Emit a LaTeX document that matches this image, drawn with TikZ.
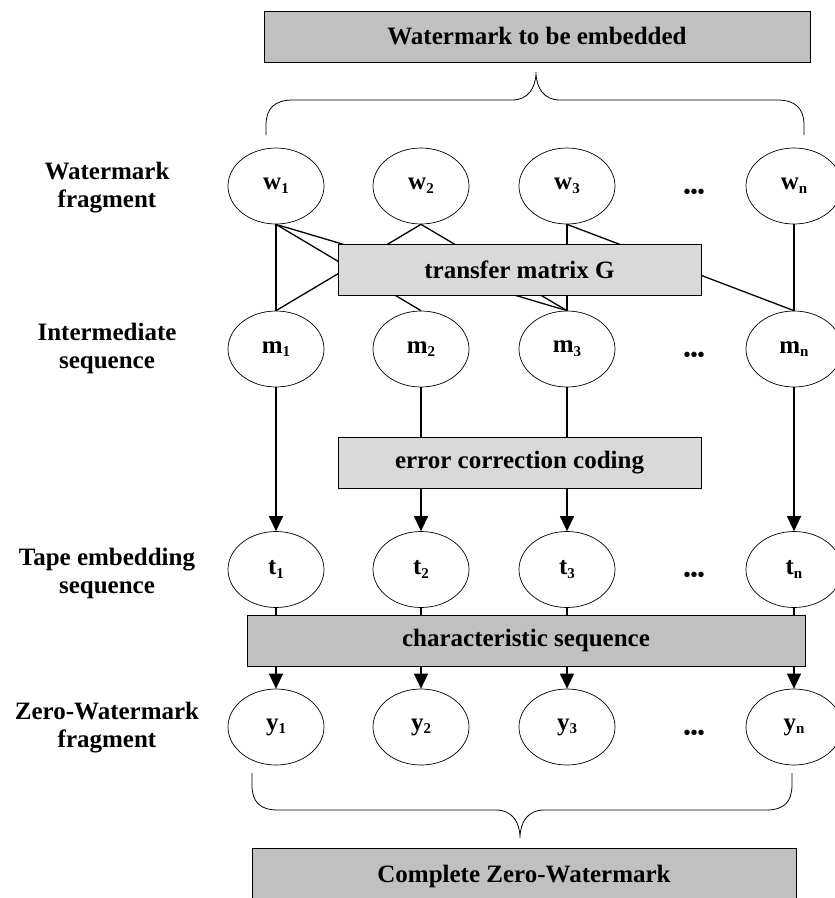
\documentclass[tikz,border=0pt]{standalone}
\usepackage{fontspec}
\setmainfont{Liberation Serif}
\usetikzlibrary{shapes.geometric,arrows.meta}
\definecolor{boxdark}{HTML}{C0C0C0}
\definecolor{boxlight}{HTML}{D9D9D9}
% lowered index after a fragment letter
\newcommand\lowidx[1]{\raisebox{-0.15em}{\fontsize{15}{15}\selectfont #1}}

\begin{document}
\begin{tikzpicture}[x=1pt,y=-1pt,
  font=\fontsize{25}{28}\selectfont\bfseries,
  frag/.style={ellipse,draw,line width=0.7pt,minimum width=96pt,minimum height=76pt,inner sep=0pt},
  conn/.style={line width=1.3pt},
  flow/.style={line width=1.3pt,-{Triangle[length=15pt,width=14pt]}},
  darkbox/.style={draw,line width=0.9pt,fill=boxdark,inner sep=0pt,minimum height=51pt},
  lightbox/.style={draw,line width=0.9pt,fill=boxlight,inner sep=0pt,minimum width=363pt,minimum height=51pt},
  rowlabel/.style={align=center,inner sep=0pt},
  dots/.style={inner sep=0pt,font=\fontsize{20}{20}\selectfont\bfseries},
  brace/.style={line width=0.8pt}]

\useasboundingbox (0,0) rectangle (835,898);
\clip (0,0) rectangle (835,898);

% source watermark
\node[darkbox,minimum width=546pt] (src) at (537,36.5) {Watermark to be embedded};

% row labels
\node[rowlabel] (lw) at (107,188) {Watermark\\fragment};
\node[rowlabel] (lm) at (107,348) {Intermediate\\sequence};
\node[rowlabel] (lt) at (107,573) {Tape embedding\\sequence};
\node[rowlabel] (ly) at (107,728) {Zero-Watermark\\fragment};

% fragment rows
\foreach \r/\yy in {w/186,m/349,t/569.5,y/727}{
  \node[frag] (\r1) at (276,\yy) {\r\lowidx{1}};
  \node[frag] (\r2) at (421,\yy) {\r\lowidx{2}};
  \node[frag] (\r3) at (567,\yy) {\r\lowidx{3}};
  \node[frag] (\r n) at (794,\yy) {\r\lowidx{n}};
}
\node[dots] (dw) at (694,194) {•••};
\node[dots] (dm) at (694,357) {•••};
\node[dots] (dt) at (694,577) {•••};
\node[dots] (dy) at (694,735) {•••};

% links through the transfer matrix
\draw[conn] (w1.south) -- (m1.north);
\draw[conn] (w1.south) -- (m2.north);
\draw[conn] (w1.south) -- (m3.north);
\draw[conn] (w2.south) -- (m1.north);
\draw[conn] (w2.south) -- (m3.north);
\draw[conn] (w3.south) -- (m3.north);
\draw[conn] (w3.south) -- (mn.north);
\draw[conn] (wn.south) -- (mn.north);

\node[lightbox] (tm) at (519.5,269.5) {transfer matrix G};

% error correction stage
\node[lightbox] (ecc) at (519.5,462.5) {error correction coding};
\draw[flow] (m1.south) -- (t1.north);
\draw[conn] (m2.south) -- (m2.south |- ecc.north);
\draw[conn] (m3.south) -- (m3.south |- ecc.north);
\draw[flow] (t2.north |- ecc.south) -- (t2.north);
\draw[flow] (t3.north |- ecc.south) -- (t3.north);
\draw[flow] (mn.south) -- (tn.north);

% characteristic sequence stage
\node[darkbox,minimum width=558pt] (cs) at (526,640.5) {characteristic sequence};
\foreach \i in {1,2,3,n}{
  \draw[conn] (t\i.south) -- (t\i.south |- cs.north);
  \draw[flow] (y\i.north |- cs.south) -- (y\i.north);
}

% braces
\coordinate (tbl) at (266,135);
\coordinate (tbr) at (804,135);
\coordinate (tbt) at (536,72);
\draw[brace] (tbl) -- (266,125) .. controls (266,108) and (275,100) .. (293,100)
  -- (512,100) .. controls (528,100) and (536,88) .. (tbt)
  .. controls (536,88) and (544,100) .. (560,100) -- (777,100)
  .. controls (795,100) and (804,108) .. (804,125) -- (tbr);

\coordinate (bbl) at (252,773);
\coordinate (bbr) at (792,773);
\coordinate (bbt) at (520,838);
\draw[brace] (bbl) -- (252,785) .. controls (252,802) and (260,810) .. (278,810)
  -- (496,810) .. controls (512,810) and (520,822) .. (bbt)
  .. controls (520,822) and (528,810) .. (544,810) -- (766,810)
  .. controls (784,810) and (792,802) .. (792,785) -- (bbr);

% result
\node[darkbox,minimum width=544pt,minimum height=57pt] (res) at (524,876.5) {Complete Zero-Watermark};
\end{tikzpicture}
\end{document}
